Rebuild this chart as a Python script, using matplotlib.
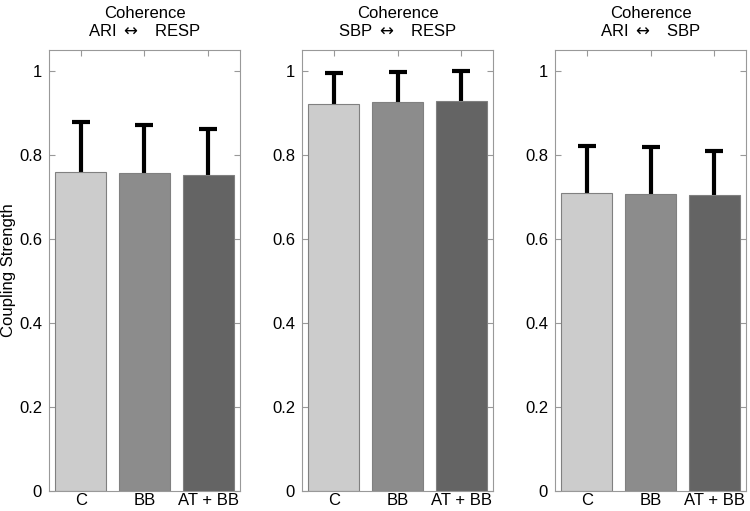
import matplotlib
matplotlib.use("Agg")
import matplotlib.pyplot as plt
import numpy as np

plt.rcParams['font.family'] = ['Liberation Sans', 'DejaVu Sans']

groups = ["C", "BB", "AT + BB"]
titles = ["Coherence\nARI $\\leftrightarrow$   RESP",
          "Coherence\nSBP $\\leftrightarrow$   RESP",
          "Coherence\nARI $\\leftrightarrow$   SBP"]
means = [
    [0.760, 0.756, 0.753],
    [0.922, 0.926, 0.929],
    [0.710, 0.708, 0.705],
]
err_tops = [
    [0.879, 0.872, 0.862],
    [0.996, 0.998, 0.999],
    [0.822, 0.818, 0.810],
]
colors = ["#cccccc", "#8c8c8c", "#646464"]
yticks = [0, 0.2, 0.4, 0.6, 0.8, 1]
yticklabels = ["0", "0.2", "0.4", "0.6", "0.8", "1"]

fig = plt.figure(figsize=(7.5, 5.11), dpi=100)
lefts = [49/750, 302/750, 555/750]
w = 191/750
b = 20/511
h = 441/511
x = np.arange(1, 4)
for i in range(3):
    ax = fig.add_axes([lefts[i], b, w, h])
    m = np.array(means[i])
    t = np.array(err_tops[i])
    ax.vlines(x, m, t, colors='black', linewidth=3, zorder=1)
    ax.plot(x, t, linestyle='none', marker='_', markersize=13, markeredgewidth=3,
            color='black', zorder=1)
    ax.bar(x, m, width=0.8, color=colors, edgecolor="#808080", linewidth=0.8, zorder=2)
    ax.set_xlim(0.5, 3.5)
    ax.set_ylim(0, 1.05)
    ax.set_xticks(x)
    ax.set_xticklabels(groups, fontsize=12)
    ax.set_yticks(yticks)
    ax.set_yticklabels(yticklabels, fontsize=12)
    ax.tick_params(direction='in', top=True, right=True, color='#999999', length=4)
    ax.tick_params(axis='x', pad=1.5)
    ax.tick_params(axis='y', pad=5)
    for s in ax.spines.values():
        s.set_color('#999999')
        s.set_linewidth(0.8)
    ax.set_title(titles[i], fontsize=12, linespacing=1.15, pad=10)
    if i == 0:
        ax.set_ylabel("Coupling Strength", fontsize=12)
        ax.yaxis.set_label_coords(-0.175, 0.5)

fig.savefig("out.png", dpi=100)
